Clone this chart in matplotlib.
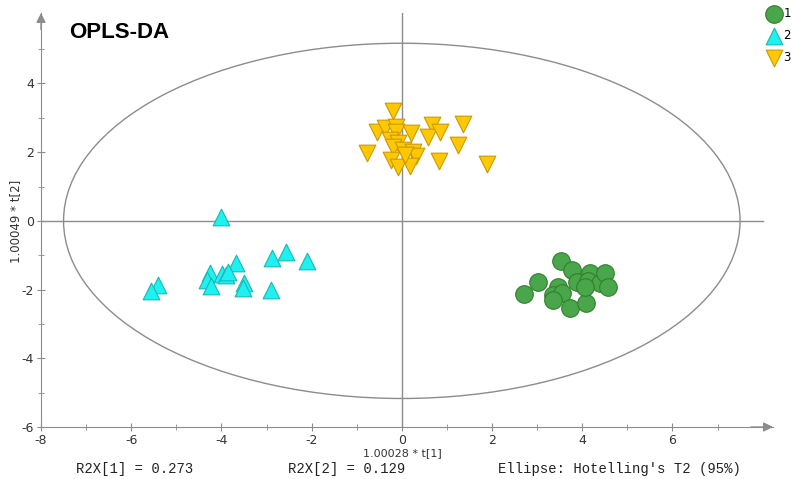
import numpy as np
import matplotlib
matplotlib.use('Agg')
import matplotlib.pyplot as plt
from matplotlib.patches import Ellipse

plt.rcParams['font.family'] = ['Liberation Sans Narrow', 'DejaVu Sans']
plt.rcParams['axes.unicode_minus'] = False

# class 1 (green circles)
g1_x = [2.70, 3.02, 3.53, 3.77, 3.46, 3.35, 3.55, 3.35, 3.73, 3.88, 4.08, 4.17, 4.12, 4.39, 4.50, 4.57, 4.06]
g1_y = [-2.14, -1.79, -1.18, -1.44, -1.93, -2.17, -2.11, -2.31, -2.55, -1.79, -2.40, -1.52, -1.76, -1.82, -1.52, -1.93, -1.93]

# class 2 (cyan triangles)
g2_x = [-4.02, -5.40, -5.55, -4.26, -4.33, -4.22, -3.98, -3.89, -3.68, -3.50, -3.53, -2.88, -2.56, -2.10, -2.90, -3.85]
g2_y = [0.12, -1.87, -2.04, -1.52, -1.73, -1.90, -1.55, -1.58, -1.24, -1.81, -1.94, -1.07, -0.90, -1.17, -2.02, -1.50]

# class 3 (yellow down triangles)
g3_x = [-0.19, -0.56, -0.38, -0.13, -0.12, 0.20, -0.27, -0.08, -0.19, 0.02, 0.24, 0.31, -0.78, -0.24,
        -0.08, 0.19, 0.67, 0.58, 0.84, 1.36, 1.24, 0.83, 1.88, 0.07]
g3_y = [3.21, 2.59, 2.69, 2.72, 2.59, 2.57, 2.35, 2.26, 2.16, 2.06, 2.01, 1.89, 1.98, 1.77,
        1.57, 1.59, 2.79, 2.45, 2.59, 2.82, 2.21, 1.75, 1.65, 1.92]

ell_a, ell_b = 7.5, 5.17
r2x1, r2x2 = 0.273, 0.129

W, H = 795, 479
fig = plt.figure(figsize=(W / 100, H / 100), dpi=100)
ax = fig.add_axes([41 / W, 52 / H, (773 - 41) / W, (427 - 13) / H])
ax.set_xlim(-8, 8.23)
ax.set_ylim(-6, 6.05)

grey = '#8c8c8c'
ax.axhline(0, xmin=0, xmax=(8.0 + 8) / 16.23, color=grey, lw=1, zorder=1)
ax.axvline(0, color=grey, lw=1, zorder=1)
ax.add_patch(Ellipse((0, 0), 2 * ell_a, 2 * ell_b, fill=False, ec=grey, lw=1, zorder=1))

ms = 160
ax.scatter(g1_x, g1_y, s=ms, marker='o', c='#4aa64a', edgecolors='#2f7f2f', linewidths=0.8, zorder=3, label='1')
ax.scatter(g2_x, g2_y, s=ms * 0.9, marker='^', c='#1ff0f0', edgecolors='#19b8b8', linewidths=0.8, zorder=3, label='2')
ax.scatter(g3_x, g3_y, s=ms * 0.9, marker='v', c='#ffc800', edgecolors='#c99a00', linewidths=0.8, zorder=3, label='3')

# axes with arrows
for s in ['top', 'right']:
    ax.spines[s].set_visible(False)
for s in ['left', 'bottom']:
    ax.spines[s].set_color(grey)
ax.annotate('', xy=(1.0, 0), xytext=(0.97, 0), xycoords='axes fraction',
            arrowprops=dict(arrowstyle='-|>', color=grey, lw=1, mutation_scale=14, shrinkA=0, shrinkB=0))
ax.annotate('', xy=(0, 1.0), xytext=(0, 0.96), xycoords='axes fraction',
            arrowprops=dict(arrowstyle='-|>', color=grey, lw=1, mutation_scale=14, shrinkA=0, shrinkB=0))

ax.set_xticks([-8, -6, -4, -2, 0, 2, 4, 6])
ax.set_yticks([-6, -4, -2, 0, 2, 4])
ax.set_xticks([v for v in range(-7, 8) if v % 2], minor=True)
ax.set_yticks([-5, -3, -1, 1, 3, 5], minor=True)
ax.tick_params(which='major', direction='inout', length=6, color=grey, labelcolor='#333333', labelsize=9, pad=2)
ax.tick_params(which='minor', direction='inout', length=4, color=grey)

ax.set_xlabel('1.00028 * t[1]', fontsize=8, color='#333333')
ax.xaxis.set_label_coords((402 - 41) / (773 - 41), -(448 - 427) / (427 - 13), transform=ax.transAxes)
ax.set_ylabel('1.00049 * t[2]', fontsize=8.5, color='#333333', va='center')
ax.yaxis.set_label_coords(-(41 - 16) / (773 - 41), (427 - 221) / (427 - 13), transform=ax.transAxes)

fig.text(69 / W, 1 - 32 / H, 'OPLS-DA', fontsize=16, fontweight='bold', family='Liberation Sans', va='center', ha='left')

mono = dict(family='Liberation Mono', fontsize=10, color='#222222', va='center', ha='left')
fig.text(76 / W, 1 - 469.5 / H, 'R2X[1] = %.3f' % r2x1, **mono)
fig.text(288 / W, 1 - 469.5 / H, 'R2X[2] = %.3f' % r2x2, **mono)
fig.text(498 / W, 1 - 469.5 / H, "Ellipse: Hotelling's T2 (95%)", **mono)

fig.legend(loc='upper left', bbox_to_anchor=(767 / W, 1 - 7 / H), frameon=False, fontsize=8.5,
           handletextpad=0.2, labelspacing=0.75, borderpad=0, handlelength=1.2, borderaxespad=0,
           markerscale=1.0)

fig.savefig('out.png', dpi=100)
